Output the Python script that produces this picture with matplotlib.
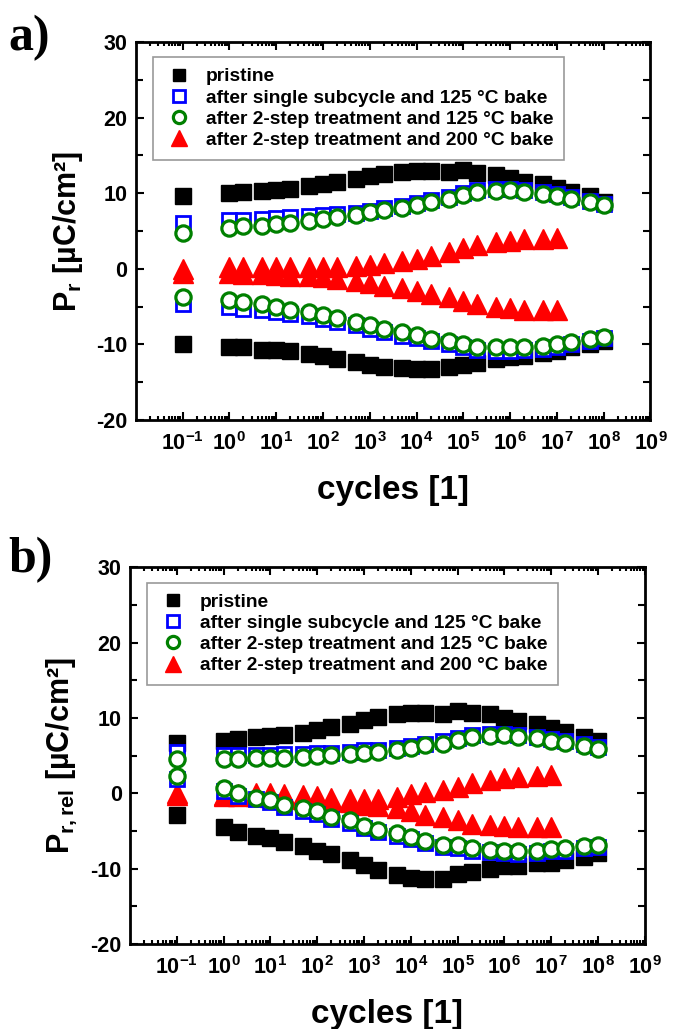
import numpy as np
import matplotlib
matplotlib.use("Agg")
import matplotlib.pyplot as plt
from matplotlib.ticker import FixedLocator, FixedFormatter, MultipleLocator, LogLocator, NullFormatter

plt.rcParams['font.family'] = ['Liberation Sans', 'DejaVu Sans']
plt.rcParams['font.weight'] = 'bold'
plt.rcParams['mathtext.fontset'] = 'custom'
plt.rcParams['mathtext.rm'] = 'Liberation Sans:bold'
plt.rcParams['mathtext.it'] = 'Liberation Sans:bold'
plt.rcParams['mathtext.bf'] = 'Liberation Sans:bold'
plt.rcParams['axes.unicode_minus'] = False

# cycle numbers (first point is the pre-cycling measurement at 0.1)
cycles = [0.1, 1, 2, 5, 10, 20, 50, 100, 200, 500, 1e3, 2e3, 5e3, 1e4, 2e4, 5e4,
          1e5, 2e5, 5e5, 1e6, 2e6, 5e6, 1e7, 2e7, 5e7, 1e8]
cycles_200 = cycles[:23]

labels = ['pristine', 'after single subcycle and 125 °C bake',
          'after 2-step treatment and 125 °C bake', 'after 2-step treatment and 200 °C bake']

# panel a) Pr
pristine_pos_a = [9.6, 10.0, 10.1, 10.3, 10.4, 10.6, 10.9, 11.2, 11.5, 11.9, 12.3, 12.6, 12.8,
                  13.0, 13.0, 12.85, 13.1, 12.7, 12.4, 12.0, 11.5, 11.2, 10.7, 10.2, 9.6, 8.9]
pristine_neg_a = [-10.0, -10.3, -10.4, -10.7, -10.8, -10.9, -11.3, -11.6, -11.9, -12.3, -12.7, -13.0, -13.2,
                  -13.3, -13.3, -13.0, -12.8, -12.5, -12.0, -11.7, -11.6, -11.2, -10.9, -10.4, -10.0, -9.6]
single_pos_a = [6.0, 6.4, 6.5, 6.6, 6.7, 6.9, 7.0, 7.1, 7.2, 7.4, 7.7, 8.0, 8.3,
                8.7, 9.1, 9.5, 10.0, 10.4, 10.6, 10.6, 10.4, 10.1, 9.9, 9.5, 9.0, 8.6]
single_neg_a = [-4.6, -5.0, -5.3, -5.5, -5.7, -6.0, -6.3, -6.6, -7.1, -7.5, -8.0, -8.4, -8.9,
                -9.2, -9.6, -10.0, -10.3, -10.7, -10.9, -10.9, -10.8, -10.6, -10.3, -10.0, -9.6, -9.1]
twostep_pos_a = [4.7, 5.4, 5.6, 5.7, 5.9, 6.1, 6.3, 6.6, 6.8, 7.1, 7.5, 7.8, 8.0,
                 8.5, 8.9, 9.3, 9.8, 10.2, 10.35, 10.4, 10.1, 9.9, 9.7, 9.3, 8.9, 8.5]
twostep_neg_a = [-3.7, -4.2, -4.4, -4.7, -5.0, -5.4, -5.7, -6.1, -6.5, -7.0, -7.5, -8.0, -8.4,
                 -8.8, -9.3, -9.6, -10.0, -10.3, -10.4, -10.4, -10.4, -10.2, -10.0, -9.7, -9.3, -9.0]
bake200_pos_a = [0.0, 0.2, 0.2, 0.2, 0.2, 0.2, 0.2, 0.2, 0.3, 0.4, 0.5, 0.7, 1.0,
                 1.3, 1.7, 2.2, 2.7, 3.2, 3.5, 3.7, 3.9, 4.0, 4.1]
bake200_neg_a = [-0.6, -0.6, -0.7, -0.7, -0.8, -0.9, -1.0, -1.1, -1.3, -1.6, -1.9, -2.3, -2.6,
                 -2.9, -3.3, -3.7, -4.3, -4.7, -5.0, -5.2, -5.4, -5.4, -5.5]

# panel b) Pr,rel
pristine_pos_b = [6.7, 7.0, 7.2, 7.5, 7.6, 7.8, 8.0, 8.4, 8.8, 9.25, 9.7, 10.2, 10.5,
                  10.7, 10.7, 10.6, 11.0, 10.7, 10.5, 10.0, 9.6, 9.2, 8.7, 8.1, 7.5, 7.0]
pristine_neg_b = [-2.9, -4.5, -5.1, -5.6, -5.9, -6.5, -7.0, -7.6, -8.1, -8.8, -9.5, -10.2, -10.8,
                  -11.2, -11.4, -11.4, -10.7, -10.5, -10.0, -9.7, -9.6, -9.3, -9.2, -8.8, -8.5, -7.9]
single_pos_b = [5.5, 5.1, 5.1, 5.1, 5.1, 5.2, 5.2, 5.3, 5.4, 5.5, 5.7, 5.8, 6.0,
                6.3, 6.6, 6.9, 7.4, 7.8, 7.9, 7.9, 7.8, 7.5, 7.2, 6.9, 6.5, 6.1]
single_neg_b = [1.85, 0.3, -0.3, -0.8, -1.2, -1.8, -2.3, -2.7, -3.4, -3.9, -4.6, -5.1, -5.6,
                -6.1, -6.6, -7.1, -7.2, -7.6, -7.8, -7.9, -8.0, -7.9, -7.7, -7.6, -7.3, -7.1]
twostep_pos_b = [4.6, 4.5, 4.6, 4.7, 4.7, 4.75, 4.85, 5.0, 5.05, 5.2, 5.4, 5.5, 5.7,
                 6.0, 6.4, 6.6, 7.1, 7.5, 7.6, 7.7, 7.5, 7.3, 7.0, 6.7, 6.3, 5.9]
twostep_neg_b = [2.3, 0.65, 0.0, -0.55, -0.9, -1.5, -2.0, -2.4, -3.1, -3.6, -4.3, -4.8, -5.3,
                 -5.8, -6.3, -6.8, -6.9, -7.3, -7.5, -7.6, -7.7, -7.6, -7.4, -7.3, -7.0, -6.8]
bake200_pos_b = [0.0, -0.2, -0.1, 0.0, 0.0, -0.1, -0.2, -0.4, -0.6, -0.7, -0.8, -0.8, -0.5,
                 -0.1, 0.2, 0.45, 0.9, 1.4, 1.75, 2.0, 2.2, 2.3, 2.4]
bake200_neg_b = [-0.2, -0.3, -0.3, -0.4, -0.5, -0.6, -0.7, -0.8, -1.0, -1.2, -1.5, -1.7, -2.0,
                 -2.3, -2.9, -3.1, -3.5, -4.05, -4.2, -4.3, -4.4, -4.4, -4.5]

xticks = [10.0**k for k in range(-1, 10)]
xticklabels = [r'$10^{%d}$' % k for k in range(-1, 10)]


def draw_panel(ax, pr, sg, ts, bk, ylabel):
    ax.plot(cycles, pr[0], 's', color='black', ms=11, mec='black', ls='none', zorder=2, label=labels[0])
    ax.plot(cycles, pr[1], 's', color='black', ms=11, mec='black', ls='none', zorder=2)
    ax.plot(cycles_200, bk[0], '^', color='red', ms=14, mec='red', ls='none', zorder=3)
    ax.plot(cycles_200, bk[1], '^', color='red', ms=14, mec='red', ls='none', zorder=3)
    ax.plot(cycles, sg[0], 's', mfc='white', mec='blue', mew=2, ms=10, ls='none', zorder=4, label=labels[1])
    ax.plot(cycles, sg[1], 's', mfc='white', mec='blue', mew=2, ms=10, ls='none', zorder=4)
    ax.plot(cycles, ts[0], 'o', mfc='white', mec='green', mew=2.3, ms=11, ls='none', zorder=5, label=labels[2])
    ax.plot(cycles, ts[1], 'o', mfc='white', mec='green', mew=2.3, ms=11, ls='none', zorder=5)
    # legend proxy for red triangles (keeps legend order)
    ax.plot([], [], '^', color='red', ms=14, mec='red', ls='none', label=labels[3])

    ax.set_xscale('log')
    ax.set_xlim(1e-2, 1e9)
    ax.set_ylim(-20, 30)
    ax.xaxis.set_major_locator(FixedLocator(xticks))
    ax.xaxis.set_major_formatter(FixedFormatter(xticklabels))
    ax.xaxis.set_minor_locator(LogLocator(base=10, subs=np.arange(2, 10), numticks=20))
    ax.xaxis.set_minor_formatter(NullFormatter())
    ax.yaxis.set_major_locator(MultipleLocator(10))
    ax.yaxis.set_minor_locator(MultipleLocator(5))
    ax.tick_params(which='both', direction='in', top=True, right=True, width=1.5)
    ax.tick_params(which='major', length=6, labelsize=15.5, pad=6)
    ax.tick_params(axis='x', which='major', pad=9)
    ax.tick_params(which='minor', length=3)
    ax.tick_params(axis='y', which='minor', length=5)
    for s in ax.spines.values():
        s.set_linewidth(2)
    ax.set_xlabel('cycles [1]', fontsize=24, fontweight='bold', labelpad=14)
    ax.set_ylabel(ylabel, fontsize=22, fontweight='bold', labelpad=8)

    leg = ax.legend(loc='upper left', bbox_to_anchor=(0.015, 0.985), fontsize=13.8,
                    frameon=True, fancybox=False, edgecolor='#999999', framealpha=1,
                    labelspacing=0.2, handletextpad=0.6, borderpad=0.55, handlelength=1.6,
                    markerscale=0.8)
    leg.get_frame().set_linewidth(1.2)


fig = plt.figure(figsize=(6.79, 10.29), dpi=100)
ax1 = fig.add_axes([0.200, 0.592, 0.758, 0.367])
ax2 = fig.add_axes([0.1915, 0.0826, 0.758, 0.366])

draw_panel(ax1, (pristine_pos_a, pristine_neg_a), (single_pos_a, single_neg_a),
           (twostep_pos_a, twostep_neg_a), (bake200_pos_a, bake200_neg_a),
           r'P$_{r}$ [µC/cm²]')
draw_panel(ax2, (pristine_pos_b, pristine_neg_b), (single_pos_b, single_neg_b),
           (twostep_pos_b, twostep_neg_b), (bake200_pos_b, bake200_neg_b),
           r'P$_{r,rel}$ [µC/cm²]')

fig.text(0.012, 0.963, 'a)', family='Liberation Serif', fontweight='bold', fontsize=36, va='center')
fig.text(0.012, 0.456, 'b)', family='Liberation Serif', fontweight='bold', fontsize=36, va='center')

fig.savefig('out.png', dpi=100)
